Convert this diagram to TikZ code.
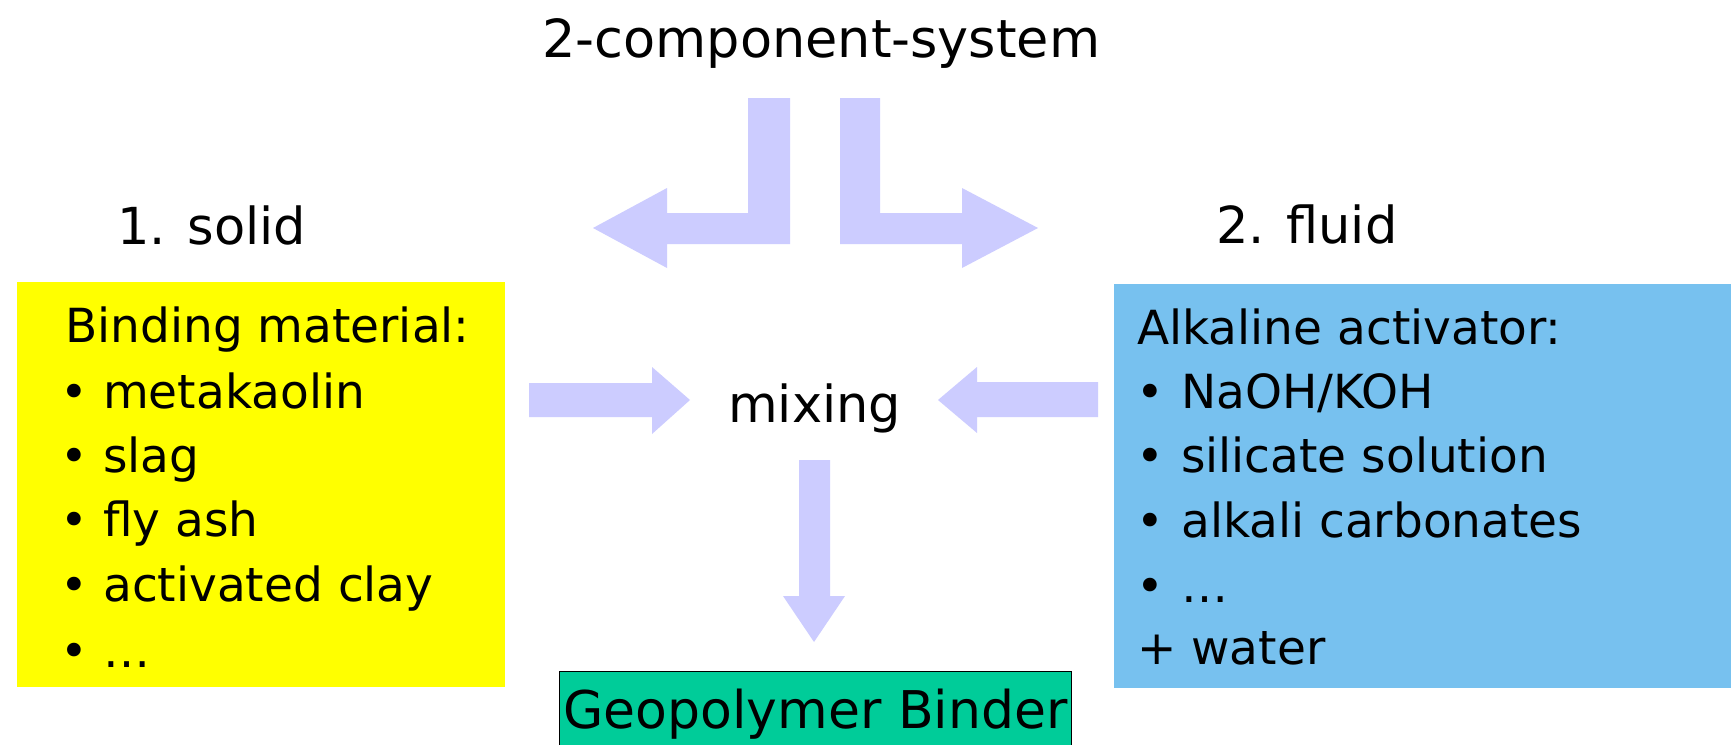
\documentclass[tikz,border=0pt]{standalone}
\usepackage{fontspec}
\setmainfont{DejaVu Sans}
\definecolor{arrowc}{HTML}{CCCCFF}
\definecolor{solidc}{HTML}{FFFF00}
\definecolor{fluidc}{HTML}{77C1EF}
\definecolor{geoc}{HTML}{00CC99}
\begin{document}
\begin{tikzpicture}[x=1pt,y=-1pt,
  head/.style={anchor=base west, inner sep=0pt, font=\fontsize{51}{61}\selectfont},
  line/.style={anchor=base west, inner sep=0pt, font=\fontsize{47}{65}\selectfont},
  panel/.style={anchor=north west, inner sep=0pt, draw=none},
  blockarrow/.style={fill=arrowc, draw=none}]
\useasboundingbox (0,0) rectangle (1731,744);
\fill[white] (0,0) rectangle (1731,744);

% title and headings
\node[head, font=\fontsize{52.5}{63}\selectfont] (title) at (542,57) {2-component-system};
\node[head] (solid) at (117,244) {1. solid};
\node[head] (fluid) at (1216,243) {2. fluid};

% panels
\node[panel, fill=solidc, minimum width=488pt, minimum height=405pt] (solidbox) at (17,282) {};
\node[panel, fill=fluidc, minimum width=617pt, minimum height=404pt] (fluidbox) at (1114,284) {};

% yellow text
\node[line] (s0) at (65,342) {Binding material:};
\node[line] (s1) at (60,408) {\makebox[43pt][l]{•}metakaolin};
\node[line] (s2) at (60,472) {\makebox[43pt][l]{•}slag};
\node[line] (s3) at (60,536) {\makebox[43pt][l]{•}fly ash};
\node[line] (s4) at (60,601) {\makebox[43pt][l]{•}activated clay};
\node[line] (s5) at (60,667) {\makebox[43pt][l]{•}…};

% blue text
\node[line] (f0) at (1137,344) {Alkaline activator:};
\node[line] (f1) at (1136,408) {\makebox[45pt][l]{•}NaOH/KOH};
\node[line] (f2) at (1136,472) {\makebox[45pt][l]{•}silicate solution};
\node[line] (f3) at (1136,537) {\makebox[45pt][l]{•}alkali carbonates};
\node[line] (f4) at (1136,602) {\makebox[45pt][l]{•}…};
\node[line] (f5) at (1137,664) {+ water};

% mixing
\node[head] (mix) at (728,422) {mixing};

% result
\node[anchor=north west, fill=geoc, draw=black, line width=0.8pt, inner xsep=4pt, inner ysep=17.5pt,
      font=\fontsize{52}{62}\selectfont] (geo) at (559,671) {Geopolymer Binder};

% block arrows from title
\fill[blockarrow] (790,98) -- (790,244) -- (667,244) -- (667,268) -- (593,228) -- (667,188) -- (667,213) -- (748,213) -- (748,98) -- cycle;
\fill[blockarrow] (840,98) -- (840,244) -- (962,244) -- (962,268) -- (1038,228) -- (962,188) -- (962,213) -- (880,213) -- (880,98) -- cycle;
% into mixing
\fill[blockarrow] (529,383) -- (652,383) -- (652,367) -- (690,400) -- (652,434) -- (652,417) -- (529,417) -- cycle;
\fill[blockarrow] (1098,382) -- (977,382) -- (977,367) -- (938,400) -- (977,433) -- (977,417) -- (1098,417) -- cycle;
% down to result
\fill[blockarrow] (799,460) -- (830,460) -- (830,596) -- (845,596) -- (814,642) -- (783,596) -- (799,596) -- cycle;
\end{tikzpicture}
\end{document}
